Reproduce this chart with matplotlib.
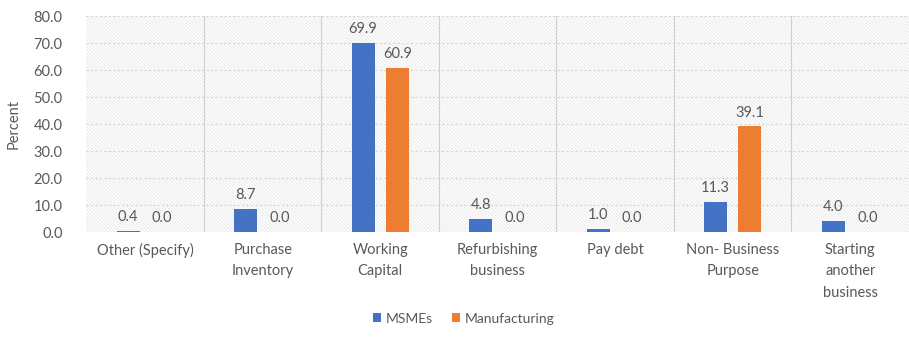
import numpy as np
import matplotlib
matplotlib.use('Agg')
import matplotlib.pyplot as plt
from matplotlib.patches import Rectangle

categories = ["Other (Specify)", "Purchase\nInventory", "Working\nCapital",
              "Refurbishing\nbusiness", "Pay debt", "Non- Business\nPurpose",
              "Starting\nanother\nbusiness"]
msmes = [0.4, 8.7, 69.9, 4.8, 1.0, 11.3, 4.0]
manufacturing = [0.0, 0.0, 60.9, 0.0, 0.0, 39.1, 0.0]
yticks = [0, 10, 20, 30, 40, 50, 60, 70, 80]

blue = '#4472C4'
orange = '#ED7D31'
txt = '#595959'
plt.rcParams['font.family'] = ['Lato', 'DejaVu Sans']
plt.rcParams['hatch.linewidth'] = 0.6

fig = plt.figure(figsize=(9.09, 3.56), dpi=100)
ax = fig.add_axes([0.095, 0.348, 0.905, 0.607])

x = np.arange(len(categories))
w = 0.195
off = 0.145
b1 = ax.bar(x - off, msmes, w, color=blue, zorder=3, label='MSMEs')
b2 = ax.bar(x + off, manufacturing, w, color=orange, zorder=3, label='Manufacturing')

for bars in (b1, b2):
    for r in bars:
        h = r.get_height()
        ax.annotate('%.1f' % h, (r.get_x() + r.get_width() / 2, h),
                    xytext=(0, 5), textcoords='offset points',
                    ha='center', va='bottom', fontsize=10.5, color=txt, zorder=4)

ax.set_xlim(-0.5, len(categories) - 0.5)
ax.set_ylim(0, 80)
ax.set_yticks(yticks)
ax.set_yticklabels(['%.1f' % v for v in yticks], fontsize=10.5, color=txt)
ax.set_xticks(x)
ax.set_xticklabels(categories, fontsize=10.5, color=txt, linespacing=1.65, va='top')
ax.tick_params(axis='y', length=0, pad=17)
ax.tick_params(axis='x', length=0, pad=8)
ax.set_ylabel('Percent', fontsize=10.5, color=txt, labelpad=9)

# hatched background
ax.add_patch(Rectangle((0, 0), 1, 1, transform=ax.transAxes, facecolor='white',
                       edgecolor='#e6e6e6', hatch='\\' * 10, lw=0, zorder=0))
for yv in yticks[1:]:
    ax.axhline(yv, color='#d6d6d6', lw=0.8, ls=(0, (2, 2)), zorder=1)
for xv in np.arange(0.5, len(categories) - 0.5, 1):
    ax.axvline(xv, color='#cfcfcf', lw=0.8, zorder=1)
for s in ax.spines.values():
    s.set_visible(False)
ax.axhline(0, color='#d6d6d6', lw=0.8, zorder=2)

fig.legend(handles=[b1, b2], loc='center', bbox_to_anchor=(0.51, 0.105), ncol=2,
           frameon=False, fontsize=10, labelcolor=txt, handlelength=0.6,
           handleheight=0.6, handletextpad=0.3, columnspacing=1.4)

fig.savefig('out.png', dpi=100)
